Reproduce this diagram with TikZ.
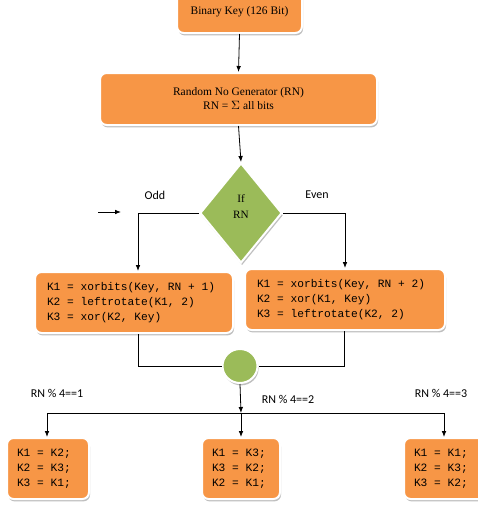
\documentclass[tikz,border=0pt]{standalone}
\usepackage{fontspec}
\setmainfont{Liberation Serif}
\newfontfamily\codefont{Liberation Mono}
\newfontfamily\lblfont{Carlito}
\usetikzlibrary{shapes.geometric,shadows,arrows.meta,calc}
\definecolor{boxorange}{HTML}{F79646}
\definecolor{boxgreen}{HTML}{9BBB59}
% fixed-width spaces for monospaced listings (align=left would shrink them)
\protected\def\codespaces{\spaceskip=0.6em\relax\xspaceskip=0.6em\relax}
\begin{document}
\begin{tikzpicture}[x=0.75pt,y=-0.75pt,
  boxbase/.style={draw=white,line width=1.5pt,rounded corners=5pt,
    drop shadow={shadow xshift=0.8pt,shadow yshift=-1.8pt,fill=black!45,opacity=0.55},
    inner sep=0pt},
  procbox/.style={boxbase,fill=boxorange,rectangle,font=\fontsize{8.6}{10.5}\selectfont,align=center},
  codebox/.style={boxbase,fill=boxorange,rectangle,font=\codefont\fontsize{8.4}{11.25}\selectfont,
    align=left,execute at begin node=\codespaces},
  decbox/.style={boxbase,rounded corners=0pt,fill=boxgreen,diamond,font=\fontsize{8.4}{11.5}\selectfont,align=center},
  joinbox/.style={boxbase,rounded corners=0pt,fill=boxgreen,ellipse},
  lbl/.style={font=\lblfont\fontsize{9}{11}\selectfont,inner sep=0pt},
  arr/.style={-{Latex[length=4.5pt,width=3.5pt]},line width=0.6pt},
  ln/.style={line width=0.6pt}]
\clip (0,0) rectangle (478,514);
\fill[white] (0,0) rectangle (478,514);

% process boxes
\node[procbox,minimum width=125*0.75pt,minimum height=43*0.75pt] (key) at (239.5,11.5) {Binary Key (126 Bit)};
\node[procbox,minimum width=277*0.75pt,minimum height=52*0.75pt] (rng) at (238.5,99) {Random No Generator (RN)\\RN = $\Sigma$ all bits};

% decision
\node[decbox,minimum width=82*0.75pt,minimum height=100*0.75pt] (dec) at (241,213) {If\\RN\\[-2pt]};
\node[lbl] (odd) at (155,195) {Odd};
\node[lbl] (even) at (317,195) {Even};
\coordinate (sa) at (98,212);
\coordinate (sb) at (121,212);

% branch computations
\node[codebox,minimum width=198*0.75pt,minimum height=61*0.75pt,text width=174*0.75pt] (lbox) at (134,302.5)
  {K1 = xorbits(Key, RN + 1)\\K2 = leftrotate(K1, 2)\\K3 = xor(K2, Key)};
\node[codebox,minimum width=200*0.75pt,minimum height=61*0.75pt,text width=176*0.75pt] (rbox) at (345,299.5)
  {K1 = xorbits(Key, RN + 2)\\K2 = xor(K1, Key)\\K3 = leftrotate(K2, 2)};

% merge point
\node[joinbox,minimum width=35*0.75pt,minimum height=34*0.75pt] (join) at (240,366) {};
\coordinate (junc) at (241,413);
\coordinate (jl) at (47,413);
\coordinate (jr) at (444,413);

% final permutations
\node[codebox,minimum width=82*0.75pt,minimum height=61*0.75pt,text width=62*0.75pt] (b1) at (48,468.5)
  {K1 = K2;\\K2 = K3;\\K3 = K1;};
\node[codebox,minimum width=78*0.75pt,minimum height=61*0.75pt,text width=58*0.75pt] (b2) at (241,468.5)
  {K1 = K3;\\K3 = K2;\\K2 = K1;};
\node[codebox,minimum width=84*0.75pt,minimum height=61*0.75pt,text width=64*0.75pt] (b3) at (446,468.5)
  {K1 = K1;\\K2 = K3;\\K3 = K2;};

\node[lbl] (m1) at (57,393) {RN \% 4==1};
\node[lbl] (m2) at (288,399) {RN \% 4==2};
\node[lbl] (m3) at (441,393) {RN \% 4==3};

% connectors
\draw[arr] (key.south) -- (rng.north);
\draw[arr] (rng.south) -- (dec.north);
\draw[arr] (sa) -- (sb);
\draw[arr] (dec.west) -| ($(lbox.north)+(4,0)$);
\draw[arr] (dec.east) -| (rbox.north);
\draw[ln] ($(lbox.south)+(4,0)$) |- (join.west);
\draw[ln] ($(rbox.south)+(-1,0)$) |- (join.east);
\draw[arr] (join.south) -- (junc);
\draw[ln] (jl) -- (jr);
\draw[arr] (jl) -- (jl |- b1.north);
\draw[arr] (junc) -- (junc |- b2.north);
\draw[arr] (jr) -- (jr |- b3.north);
\end{tikzpicture}
\end{document}
